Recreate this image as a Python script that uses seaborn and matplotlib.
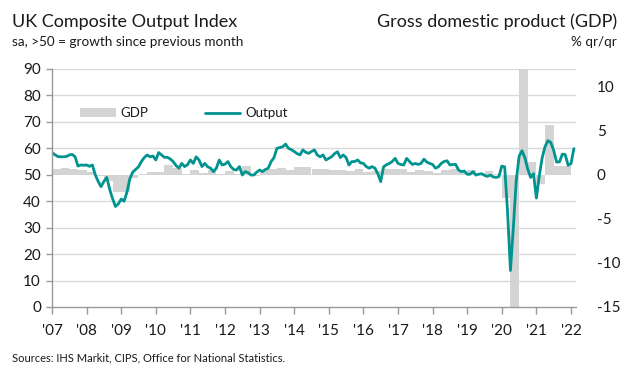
import numpy as np
import pandas as pd
import matplotlib
matplotlib.use("Agg")
import matplotlib.pyplot as plt
from matplotlib.patches import Patch
from matplotlib.lines import Line2D
import seaborn as sns

# ---------------- data ----------------
start_year = 2007
output_2007 = [58.4, 57.6, 56.9, 56.8, 56.8, 56.9, 57.5, 57.7, 56.8, 53.3, 53.7, 53.6]
output_2008 = [53.7, 53.2, 53.7, 50.0, 47.5, 45.5, 47.5, 49.0, 44.5, 41.0, 38.0, 39.0]
output_2009 = [40.8, 40.0, 43.5, 48.5, 51.0, 52.0, 53.0, 55.0, 56.5, 57.5, 56.8, 57.1]
output_2010 = [55.6, 58.4, 57.5, 56.6, 56.6, 56.0, 55.0, 53.5, 52.5, 54.3, 53.1, 53.8]
output_2011 = [55.6, 54.3, 56.8, 55.6, 53.1, 54.3, 53.0, 52.5, 51.2, 52.5, 55.6, 53.7]
output_2012 = [54.0, 55.0, 53.1, 52.0, 51.8, 53.1, 49.9, 51.2, 50.8, 49.9, 49.9, 51.0]
output_2013 = [51.8, 51.2, 52.0, 52.5, 55.0, 56.5, 60.0, 60.3, 60.6, 61.6, 60.0, 59.5]
output_2014 = [58.8, 58.0, 57.5, 59.4, 58.5, 58.1, 58.8, 59.4, 57.5, 56.8, 57.5, 55.6]
output_2015 = [56.2, 56.8, 58.0, 58.7, 56.5, 57.5, 56.5, 53.7, 55.0, 55.0, 55.6, 54.5]
output_2016 = [54.3, 53.1, 52.5, 53.1, 52.5, 50.4, 47.4, 53.0, 53.8, 54.3, 55.0, 56.2]
output_2017 = [54.3, 53.9, 53.7, 56.2, 55.0, 53.9, 54.3, 53.9, 54.3, 55.9, 54.8, 54.3]
output_2018 = [53.9, 52.5, 53.0, 54.3, 55.0, 55.3, 53.7, 53.9, 53.9, 51.8, 51.2, 51.4]
output_2019 = [50.2, 50.2, 51.2, 49.9, 50.2, 50.4, 49.8, 49.4, 49.9, 49.2, 49.0, 49.3]
output_2020 = [53.3, 53.0, 36.0, 13.8, 30.0, 47.7, 57.0, 59.1, 56.5, 52.1, 49.0, 50.4]
output_2021 = [41.2, 49.6, 56.4, 60.7, 62.9, 62.2, 59.2, 54.8, 54.9, 57.8, 57.6, 53.6]
output_2022 = [54.2, 59.9]

gdp_qq = [0.65, 0.75, 0.6, 0.5,      # 2007
          0.3, -0.1, -0.75, -2.0,    # 2008
          -1.9, -0.4, 0.1, 0.3,      # 2009
          0.3, 1.1, 0.8, 0.1,        # 2010
          0.5, 0.2, 0.5, 0.1,        # 2011
          0.4, 0.1, 1.0, -0.1,       # 2012
          0.5, 0.6, 0.8, 0.5,        # 2013
          0.9, 0.9, 0.7, 0.7,        # 2014
          0.5, 0.5, 0.4, 0.6,        # 2015
          0.3, 0.4, 0.6, 0.7,        # 2016
          0.6, 0.3, 0.5, 0.4,        # 2017
          0.2, 0.5, 0.6, 0.3,        # 2018
          0.5, 0.0, 0.4, 0.1,        # 2019
          -2.6, -19.4, 16.9, 1.5,    # 2020
          -1.1, 5.6, 1.0, 1.0]       # 2021

year_labels = ["'07", "'08", "'09", "'10", "'11", "'12", "'13", "'14", "'15",
               "'16", "'17", "'18", "'19", "'20", "'21", "'22"]
left_ticks = [0, 10, 20, 30, 40, 50, 60, 70, 80, 90]
right_ticks = [-15, -10, -5, 0, 5, 10]

output = (output_2007 + output_2008 + output_2009 + output_2010 + output_2011 +
          output_2012 + output_2013 + output_2014 + output_2015 + output_2016 +
          output_2017 + output_2018 + output_2019 + output_2020 + output_2021 +
          output_2022)
months = np.arange(len(output))
df_out = pd.DataFrame({"t": start_year + months / 12.0, "Output": output})
q_start = start_year + np.arange(len(gdp_qq)) * 0.25

# ---------------- style ----------------
sns.set_theme(style="white")
FONT = ["Lato", "DejaVu Sans"]
plt.rcParams["font.family"] = FONT
TXT = "#1a1a1a"
TEAL = "#00938f"
BARC = "#d4d4d4"
GRID = "#d9d9d9"

fig = plt.figure(figsize=(6.34, 3.76), dpi=100)
fig.patch.set_facecolor("white")
ax = fig.add_axes([52/634, 1 - 307/376, (576-52)/634, (307-69)/376])
ax2 = ax.twinx()

# bars on the right (GDP) axis, drawn below the line axis
ax2.bar(q_start, gdp_qq, width=0.25, align="edge", color=BARC, linewidth=0, zorder=2)
ax2.set_ylim(-15, 12)
ax2.set_yticks(right_ticks)
ax2.set_yticklabels([str(v) for v in right_ticks], fontsize=11, color=TXT)
ax2.set_yticks(np.arange(-15, 12.01, 3), minor=True)
ax2.grid(False, which="major")
ax2.grid(True, which="minor", axis="y", color=GRID, linewidth=1.0, zorder=0)
ax2.set_axisbelow(True)
ax2.tick_params(axis="y", which="both", length=0, pad=15)
for s in ax2.spines.values():
    s.set_visible(False)

# line on the left (index) axis
ax.set_zorder(ax2.get_zorder() + 1)
ax.patch.set_visible(False)
sns.lineplot(data=df_out, x="t", y="Output", ax=ax, color=TEAL, linewidth=2.0, legend=False)
ax.set_ylim(0, 90)
ax.set_xlim(start_year, start_year + (576 - 52) / 34.6)
ax.set_yticks(left_ticks)
ax.set_yticklabels([str(v) for v in left_ticks], fontsize=11, color=TXT)
ax.set_xticks(np.arange(start_year, start_year + len(year_labels)))
ax.set_xticklabels(year_labels, fontsize=11, color=TXT)
ax.set_xlabel("")
ax.set_ylabel("")
ax.grid(False)
ax.tick_params(axis="y", which="both", direction="out", length=4, width=1, color="#999999", pad=4, left=True)
ax.tick_params(axis="x", which="both", direction="out", length=5, width=1, color="#999999", pad=7, bottom=True)
for side in ["top", "right"]:
    ax.spines[side].set_visible(False)
for side in ["left", "bottom"]:
    ax.spines[side].set_color("#999999")
    ax.spines[side].set_linewidth(1.0)

# legend
handles = [Patch(facecolor=BARC, edgecolor="none", label="GDP"),
           Line2D([0], [0], color=TEAL, linewidth=2.0, label="Output")]
leg = ax.legend(handles=handles, loc="center left", bbox_to_anchor=((80-52)/524, (307-113)/238),
                ncol=2, frameon=False, fontsize=9.5, handlelength=2.7, handleheight=0.6,
                handletextpad=0.35, columnspacing=4.3, borderpad=0, borderaxespad=0)
for t in leg.get_texts():
    t.set_color(TXT)

# titles and notes
fig.text(12/634, 1 - 22/376, "UK Composite Output Index", fontsize=13, color=TXT, va="center", ha="left")
fig.text(12/634, 1 - 42/376, "sa, >50 = growth since previous month", fontsize=9.7, color=TXT, va="center", ha="left")
fig.text(617/634, 1 - 22/376, "Gross domestic product (GDP)", fontsize=13, color=TXT, va="center", ha="right")
fig.text(617/634, 1 - 42/376, "% qr/qr", fontsize=9.7, color=TXT, va="center", ha="right")
fig.text(12/634, 1 - 358/376, "Sources: IHS Markit, CIPS, Office for National Statistics.", fontsize=8,
         color=TXT, va="center", ha="left")

fig.savefig("out.png", dpi=100)
